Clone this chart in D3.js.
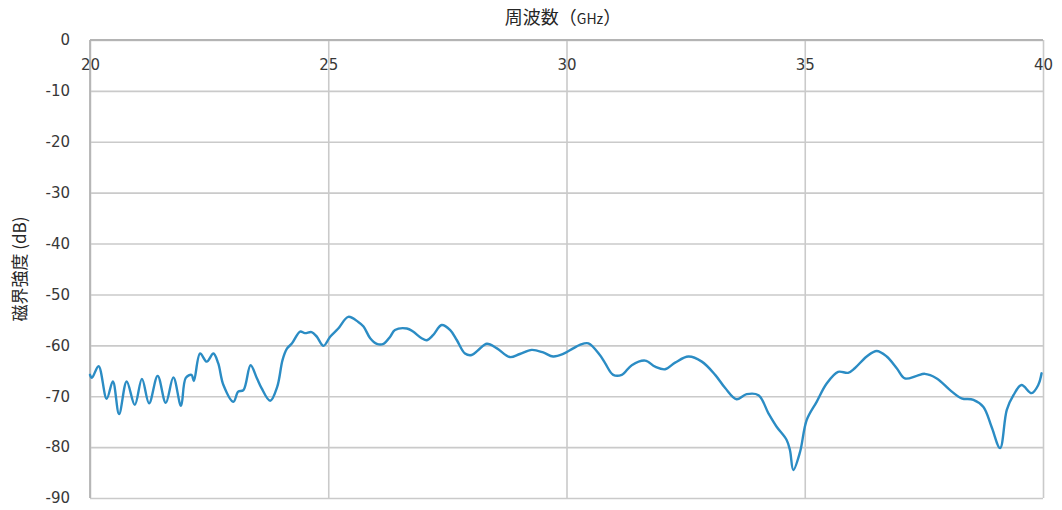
<!DOCTYPE html>
<html><head><meta charset="utf-8">
<script src="https://cdn.jsdelivr.net/npm/d3@7"></script>
<style>
html,body{margin:0;padding:0;background:#fff;}
svg{display:block;}
</style>
</head><body>
<svg id="chart" width="1062" height="510"></svg>
<script>
const xTicks = [20, 25, 30, 35, 40];
const yTicks = [0, -10, -20, -30, -40, -50, -60, -70, -80, -90];
const freqGHz = [20.00,20.04,20.18,20.35,20.48,20.61,20.77,20.94,21.09,21.24,21.42,21.59,21.75,21.91,22.01,22.13,22.18,22.31,22.45,22.59,22.69,22.80,23.01,23.11,23.22,23.37,23.50,23.60,23.78,23.93,24.04,24.13,24.24,24.41,24.51,24.65,24.76,24.90,25.04,25.21,25.42,25.63,25.74,25.88,26.02,26.16,26.30,26.40,26.65,26.78,26.96,27.07,27.20,27.38,27.56,27.70,27.87,28.01,28.15,28.33,28.54,28.81,29.02,29.27,29.51,29.72,29.93,30.14,30.28,30.46,30.70,30.81,30.98,31.16,31.37,31.65,31.86,32.07,32.28,32.56,32.84,33.12,33.33,33.57,33.78,34.03,34.24,34.41,34.62,34.69,34.76,34.90,35.04,35.25,35.46,35.70,35.91,36.05,36.30,36.51,36.72,36.93,37.10,37.35,37.52,37.77,38.05,38.29,38.54,38.75,38.92,39.10,39.24,39.38,39.55,39.76,39.90,39.97];
const fieldDb = [-65.8,-66.4,-64.1,-70.5,-67.1,-73.5,-67.1,-71.7,-66.6,-71.4,-66.0,-71.3,-66.3,-71.9,-66.4,-65.8,-67.0,-61.6,-63.2,-61.6,-63.5,-67.8,-71.1,-69.1,-68.8,-63.9,-66.4,-68.4,-70.9,-68.1,-62.9,-60.7,-59.6,-57.3,-57.6,-57.4,-58.3,-60.1,-58.3,-56.7,-54.4,-55.4,-56.3,-58.6,-59.7,-59.7,-58.3,-57.0,-56.7,-57.3,-58.6,-59.0,-58.0,-56.0,-57.0,-59.0,-61.6,-61.9,-60.9,-59.7,-60.6,-62.3,-61.7,-60.9,-61.4,-62.2,-61.7,-60.6,-59.9,-59.6,-61.9,-63.5,-65.8,-65.8,-63.9,-63.0,-64.2,-64.7,-63.4,-62.2,-63.2,-65.8,-68.4,-70.6,-69.6,-69.8,-73.4,-76.0,-78.6,-80.6,-84.5,-81.0,-74.7,-71.1,-67.5,-65.2,-65.4,-64.5,-62.2,-61.1,-62.2,-64.5,-66.5,-66.0,-65.6,-66.5,-68.8,-70.4,-70.7,-72.1,-76.0,-80.2,-72.7,-69.8,-67.8,-69.4,-67.8,-65.5];

const svg = d3.select('#chart');
const L = 90, R = 1043, T = 40, B = 498;
const x = d3.scaleLinear().domain([20, 40]).range([L, R]);
const y = d3.scaleLinear().domain([0, -90]).range([T, B]);
const fmt = d => String(d);

// gridlines
svg.append('g').attr('transform', `translate(0,${T})`)
  .call(d3.axisBottom(x).tickValues(xTicks).tickSize(B - T).tickFormat(''))
  .call(g => g.select('.domain').remove())
  .call(g => g.selectAll('line').attr('stroke', '#cacaca').attr('stroke-width', 1.6));
svg.append('g').attr('transform', `translate(${L},0)`)
  .call(d3.axisRight(y).tickValues(yTicks).tickSize(R - L).tickFormat(''))
  .call(g => g.select('.domain').remove())
  .call(g => g.selectAll('line').attr('stroke', '#cacaca').attr('stroke-width', 1.6));

// frame (left & top axes)
svg.append('line').attr('x1', L).attr('x2', R).attr('y1', y(0)).attr('y2', y(0))
  .attr('stroke', '#b4b4b4').attr('stroke-width', 1.8);
svg.append('line').attr('x1', L).attr('x2', L).attr('y1', T).attr('y2', B)
  .attr('stroke', '#b4b4b4').attr('stroke-width', 1.8);

// axis labels
const fontTick = 'DejaVu Sans, Verdana, sans-serif';
svg.append('g').attr('transform', `translate(0,${T})`)
  .call(d3.axisBottom(x).tickValues(xTicks).tickSize(0).tickPadding(19).tickFormat(fmt))
  .call(g => g.select('.domain').remove())
  .call(g => g.selectAll('text').attr('font-family', fontTick).attr('font-size', 15).attr('fill', '#383838'));
svg.append('g').attr('transform', `translate(${L},0)`)
  .call(d3.axisLeft(y).tickValues(yTicks).tickSize(0).tickPadding(20).tickFormat(fmt))
  .call(g => g.select('.domain').remove())
  .call(g => g.selectAll('text').attr('font-family', fontTick).attr('font-size', 15).attr('fill', '#383838'));

// titles
const cjk = 'Noto Sans CJK JP, sans-serif';
const title = svg.append('text').attr('x', 563).attr('y', 24).attr('text-anchor', 'middle')
  .attr('font-family', cjk).attr('font-size', 18).attr('fill', '#262626');
title.append('tspan').text('周波数（');
title.append('tspan').attr('font-size', 14).text('GHz');
title.append('tspan').text('）');

svg.append('text').attr('transform', 'translate(26,269) rotate(-90)').attr('text-anchor', 'middle')
  .attr('font-family', cjk).attr('font-size', 17).attr('fill', '#262626')
  .text('磁界強度 (dB)');

// series line
const pts = freqGHz.map((f, i) => [f, fieldDb[i]]);
svg.append('path').datum(pts)
  .attr('fill', 'none').attr('stroke', '#2b8cc4').attr('stroke-width', 2.4)
  .attr('stroke-linejoin', 'round').attr('stroke-linecap', 'round')
  .attr('d', d3.line().x(d => x(d[0])).y(d => y(d[1])).curve(d3.curveCatmullRom.alpha(0.5)));
</script>
</body></html>
